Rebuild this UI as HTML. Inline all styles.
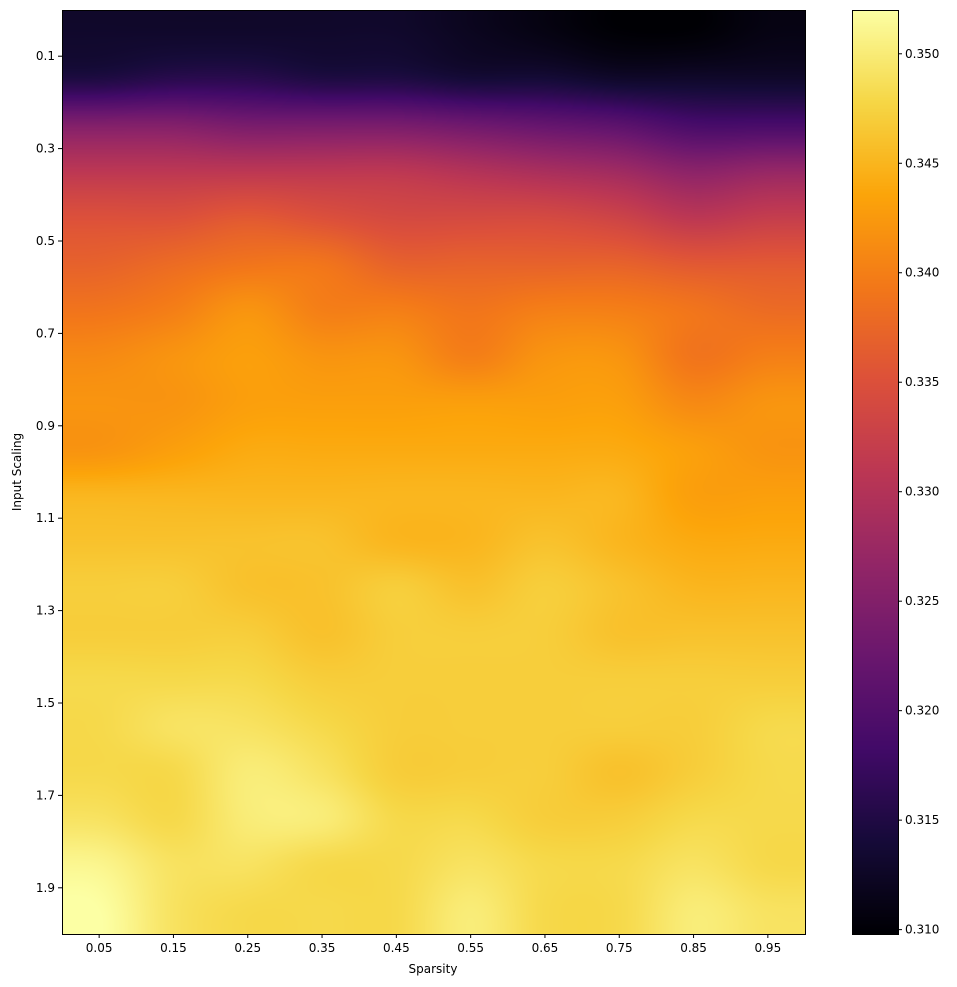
<!DOCTYPE html>
<html><head><meta charset="utf-8"><style>
body{margin:0;background:#fff;width:957px;height:987px;overflow:hidden;font-family:"DejaVu Sans","Liberation Sans",sans-serif}
svg text{font-family:"DejaVu Sans","Liberation Sans",sans-serif;font-size:12px;fill:#000}
#hm{position:absolute;left:62px;top:10px}
#cb{position:absolute;left:852px;top:10px}
#ov{position:absolute;left:0;top:0}
</style></head><body>
<canvas id="hm" width="743" height="924"></canvas>
<canvas id="cb" width="46" height="924"></canvas>
<svg id="ov" width="957" height="987"></svg>
<script>
const xCats=["0.05","0.15","0.25","0.35","0.45","0.55","0.65","0.75","0.85","0.95"];
const yCats=["0.05","0.15","0.25","0.35","0.45","0.55","0.65","0.75","0.85","0.95","1.05","1.15","1.25","1.35","1.45","1.55","1.65","1.75","1.85","1.95"];
const xTickLabels=["0.05","0.15","0.25","0.35","0.45","0.55","0.65","0.75","0.85","0.95"];
const yTickLabels=["0.1","0.3","0.5","0.7","0.9","1.1","1.3","1.5","1.7","1.9"];
const cbTicks=[0.310,0.315,0.320,0.325,0.330,0.335,0.340,0.345,0.350];
const vmin=0.3098, vmax=0.3520;
const values=[
[0.313,0.313,0.313,0.313,0.313,0.312,0.311,0.310,0.310,0.311],
[0.315,0.316,0.316,0.315,0.315,0.314,0.314,0.313,0.313,0.313],
[0.325,0.325,0.324,0.324,0.324,0.323,0.322,0.321,0.319,0.319],
[0.331,0.331,0.331,0.331,0.331,0.330,0.329,0.328,0.326,0.327],
[0.335,0.335,0.336,0.335,0.334,0.334,0.334,0.333,0.331,0.332],
[0.337,0.338,0.339,0.339,0.337,0.337,0.337,0.337,0.336,0.336],
[0.339,0.340,0.342,0.340,0.340,0.339,0.340,0.340,0.339,0.338],
[0.341,0.342,0.343,0.342,0.342,0.340,0.342,0.342,0.339,0.340],
[0.342,0.342,0.343,0.343,0.343,0.343,0.343,0.343,0.341,0.342],
[0.342,0.343,0.344,0.344,0.344,0.344,0.344,0.344,0.343,0.342],
[0.345,0.345,0.345,0.345,0.345,0.345,0.345,0.345,0.343,0.343],
[0.346,0.346,0.346,0.346,0.345,0.345,0.346,0.345,0.344,0.344],
[0.347,0.347,0.346,0.346,0.347,0.346,0.347,0.346,0.345,0.345],
[0.347,0.347,0.347,0.346,0.347,0.347,0.347,0.346,0.346,0.346],
[0.348,0.348,0.348,0.347,0.347,0.347,0.347,0.347,0.347,0.347],
[0.348,0.349,0.349,0.348,0.347,0.347,0.347,0.347,0.347,0.348],
[0.348,0.348,0.350,0.349,0.347,0.347,0.347,0.346,0.347,0.348],
[0.349,0.348,0.350,0.350,0.348,0.348,0.347,0.347,0.348,0.348],
[0.351,0.349,0.349,0.348,0.348,0.349,0.348,0.348,0.349,0.348],
[0.352,0.349,0.348,0.348,0.348,0.350,0.348,0.348,0.350,0.349]];
const stops=[[0,0,4],[22,11,57],[66,10,104],[106,23,110],[147,38,103],[188,55,84],[221,81,58],[243,120,25],[252,165,10],[246,215,70],[252,255,164]];
function cmap(v){let t=(v-vmin)/(vmax-vmin);t=Math.max(0,Math.min(1,t))*10;const i=Math.min(9,Math.floor(t)),f=t-i;const a=stops[i],b=stops[i+1];return [a[0]+(b[0]-a[0])*f,a[1]+(b[1]-a[1])*f,a[2]+(b[2]-a[2])*f];}
const PX={l:62,t:10,w:743,h:924};
const xScale=v=>PX.l+v*PX.w;
const yScale=v=>PX.t+v/2*PX.h;
const nr=values.length,nc=values[0].length;
function g(r,c){r=Math.max(0,Math.min(nr-1,r));c=Math.max(0,Math.min(nc-1,c));return values[r][c];}
function cr(p0,p1,p2,p3,t){return p1+0.5*t*(p2-p0+t*(2*p0-5*p1+4*p2-p3+t*(3*(p1-p2)+p3-p0)));}
function bic(fr,fc){const r=Math.floor(fr),c=Math.floor(fc),tr=fr-r,tc=fc-c;const rows=[];for(let i=-1;i<3;i++)rows.push(cr(g(r+i,c-1),g(r+i,c),g(r+i,c+1),g(r+i,c+2),tc));return cr(rows[0],rows[1],rows[2],rows[3],tr);}
const hm=document.getElementById('hm'),ctx=hm.getContext('2d');const img=ctx.createImageData(743,924);
for(let y=0;y<924;y++){const fr=(y+0.5)/924*nr-0.5;for(let x=0;x<743;x++){const fc=(x+0.5)/743*nc-0.5;const col=cmap(bic(fr,fc));const k=(y*743+x)*4;img.data[k]=col[0];img.data[k+1]=col[1];img.data[k+2]=col[2];img.data[k+3]=255;}}
ctx.putImageData(img,0,0);
const cb=document.getElementById('cb'),cc=cb.getContext('2d');
for(let y=0;y<924;y++){const v=vmax-(y+0.5)/924*(vmax-vmin);const c=cmap(v);cc.fillStyle=`rgb(${c[0]|0},${c[1]|0},${c[2]|0})`;cc.fillRect(0,y,46,1);}
const svg=document.getElementById('ov');const NS='http://www.w3.org/2000/svg';
function el(t,a,txt){const e=document.createElementNS(NS,t);for(const k in a)e.setAttribute(k,a[k]);if(txt!=null)e.textContent=txt;svg.appendChild(e);return e;}
let e=el('rect',{x:62.5,y:10.5,width:743,height:924,fill:'none',stroke:'#000','stroke-width':1});

e=el('rect',{x:852.5,y:10.5,width:46,height:924,fill:'none',stroke:'#000','stroke-width':1});

xTickLabels.forEach((l,i)=>{const x=xScale((i+0.5)/nc);el('line',{x1:x,x2:x,y1:934,y2:938,stroke:'#000'});
const t=el('text',{x:x,y:952,'text-anchor':'middle'},l);});
yTickLabels.forEach((l,i)=>{const y=yScale(parseFloat(l));el('line',{x1:58,x2:62,y1:y,y2:y,stroke:'#000'});
const t=el('text',{x:55,y:y+4,'text-anchor':'end'},l);});
cbTicks.forEach(v=>{const y=10+(vmax-v)/(vmax-vmin)*924;el('line',{x1:898,x2:902,y1:y,y2:y,stroke:'#000'});
const t=el('text',{x:905,y:y+4},v.toFixed(3));});
e=el('text',{x:433,y:973,'text-anchor':'middle'},'Sparsity');
e=el('text',{x:21,y:472,'text-anchor':'middle',transform:'rotate(-90 21 472)'},'Input Scaling');
</script>
</body></html>
